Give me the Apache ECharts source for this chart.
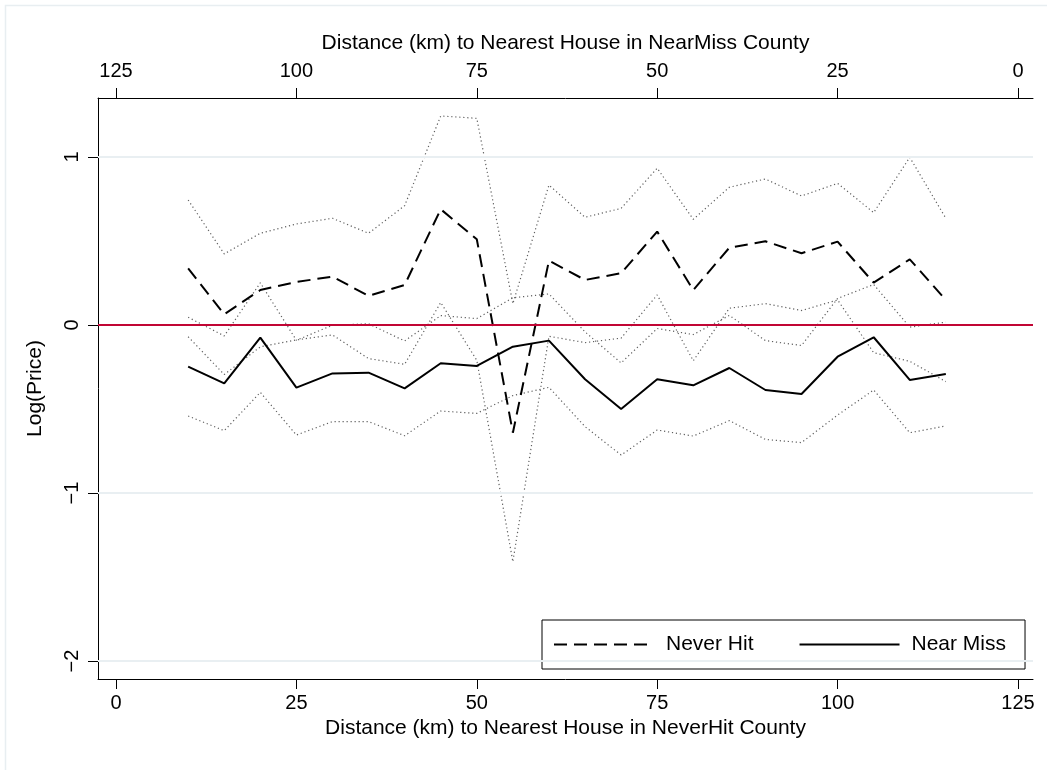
<!DOCTYPE html>
<html>
<head>
<meta charset="utf-8">
<script src="https://cdn.jsdelivr.net/npm/echarts@6/dist/echarts.min.js"></script>
<style>
html,body{margin:0;padding:0;background:#fff;}
#chart{width:1047px;height:770px;}
</style>
</head>
<body>
<div id="chart"></div>
<script>
// ---- data ----
const distances = [10,15,20,25,30,35,40,45,50,55,60,65,70,75,80,85,90,95,100,105,110,115];
const neverHit = [0.337,0.064,0.208,0.256,0.288,0.173,0.238,0.689,0.51,-0.641,0.383,0.268,0.308,0.556,0.208,0.460,0.498,0.427,0.496,0.252,0.391,0.149];
const neverHitUpper = [0.744,0.423,0.546,0.601,0.635,0.546,0.71,1.244,1.23,0.127,0.833,0.641,0.694,0.933,0.629,0.82,0.869,0.768,0.843,0.669,0.998,0.635];
const neverHitLower = [-0.07,-0.295,-0.13,-0.089,-0.059,-0.2,-0.234,0.134,-0.21,-1.409,-0.067,-0.105,-0.078,0.179,-0.213,0.1,0.127,0.086,0.149,-0.165,-0.216,-0.337];
const nearMiss = [-0.248,-0.347,-0.075,-0.373,-0.288,-0.284,-0.377,-0.228,-0.244,-0.129,-0.093,-0.323,-0.5,-0.323,-0.359,-0.256,-0.387,-0.411,-0.189,-0.073,-0.327,-0.292];
const nearMissUpper = [0.046,-0.065,0.251,-0.091,-0.001,0.007,-0.095,0.056,0.038,0.162,0.185,-0.041,-0.226,-0.021,-0.057,0.057,-0.093,-0.122,0.158,0.241,-0.013,0.017];
const nearMissLower = [-0.542,-0.629,-0.401,-0.655,-0.575,-0.575,-0.659,-0.512,-0.526,-0.42,-0.371,-0.605,-0.774,-0.625,-0.661,-0.569,-0.681,-0.700,-0.536,-0.387,-0.641,-0.601];
const xTicks = [0,25,50,75,100,125];
const yTicks = [-2,-1,0,1];
const gridValues = [1,-1,-2];
const refValue = 0;
const topTitle = 'Distance (km) to Nearest House in NearMiss County';
const bottomTitle = 'Distance (km) to Nearest House in NeverHit County';
const yTitle = 'Log(Price)';

const FONT = '"Liberation Sans", Arial, Helvetica, sans-serif';
const pairs = arr => distances.map((d, i) => [d, arr[i]]);
const minus = v => String(v).replace('-', '\u2212');

const dotted = { color: '#5f5f5f', width: 1.2, type: [1.2, 2.8] };

const chart = echarts.init(document.getElementById('chart'), null, { renderer: 'canvas' });
chart.setOption({
  backgroundColor: '#ffffff',
  animation: false,
  textStyle: { fontFamily: FONT },
  graphic: [{
    type: 'rect', z: -10, silent: true,
    shape: { x: 5.5, y: 5.5, width: 1060, height: 780 },
    style: { fill: 'none', stroke: '#e8eef1', lineWidth: 1.5 }
  }],
  grid: { left: 98, top: 98, right: 14, bottom: 91, containLabel: false },
  legend: {
    data: ['Never Hit', 'Near Miss'],
    left: 542, top: 620,
    orient: 'horizontal',
    padding: [14, 19, 14, 11],
    itemWidth: 100, itemHeight: 14, itemGap: 45,
    itemStyle: { opacity: 0 },
    borderColor: '#000', borderWidth: 1, borderRadius: 0,
    backgroundColor: '#fff',
    textStyle: { fontSize: 21, color: '#000', fontFamily: FONT, padding: [0, 0, 0, 7] },
    selectedMode: false
  },
  xAxis: [{
    type: 'value', position: 'bottom',
    min: -2.494, max: 127.08,
    name: bottomTitle, nameLocation: 'middle', nameGap: 33,
    nameTextStyle: { fontSize: 21, color: '#000', fontFamily: FONT },
    axisLine: { show: true, onZero: false, lineStyle: { color: '#000', width: 1 } },
    axisTick: { show: true, length: 10, customValues: xTicks, lineStyle: { color: '#000' } },
    axisLabel: { customValues: xTicks, fontSize: 20, color: '#000', margin: 14, fontFamily: FONT },
    splitLine: { show: false }
  }, {
    type: 'value', position: 'top', inverse: true,
    min: -2.08, max: 127.494,
    name: topTitle, nameLocation: 'middle', nameGap: 44,
    nameTextStyle: { fontSize: 21, color: '#000', fontFamily: FONT },
    axisLine: { show: true, onZero: false, lineStyle: { color: '#000', width: 1 } },
    axisTick: { show: true, length: 10, customValues: xTicks, lineStyle: { color: '#000' } },
    axisLabel: { customValues: xTicks, fontSize: 20, color: '#000', margin: 17, fontFamily: FONT },
    splitLine: { show: false }
  }],
  yAxis: {
    type: 'value', min: -2.107, max: 1.351,
    name: yTitle, nameLocation: 'middle', nameGap: 52, nameRotate: 90,
    nameTextStyle: { fontSize: 21, color: '#000', fontFamily: FONT },
    axisLine: { show: true, onZero: false, lineStyle: { color: '#000', width: 1 } },
    axisTick: { show: true, length: 10, customValues: yTicks, lineStyle: { color: '#000' } },
    axisLabel: { customValues: yTicks, rotate: 90, fontSize: 20, color: '#000', margin: 16,
      fontFamily: FONT, formatter: v => minus(v) },
    splitLine: { show: false }
  },
  series: [
    {
      name: 'grid', type: 'line', data: [], silent: true, z: 1,
      markLine: {
        silent: true, symbol: 'none', label: { show: false },
        lineStyle: { color: '#e9eff2', width: 2, type: 'solid' },
        data: gridValues.map(v => ({ yAxis: v }))
      }
    },
    { name: 'Never Hit CI upper', type: 'line', data: pairs(neverHitUpper), showSymbol: false, symbol: 'none', lineStyle: dotted, z: 2 },
    { name: 'Never Hit CI lower', type: 'line', data: pairs(neverHitLower), showSymbol: false, symbol: 'none', lineStyle: dotted, z: 2 },
    { name: 'Near Miss CI upper', type: 'line', data: pairs(nearMissUpper), showSymbol: false, symbol: 'none', lineStyle: dotted, z: 2 },
    { name: 'Near Miss CI lower', type: 'line', data: pairs(nearMissLower), showSymbol: false, symbol: 'none', lineStyle: dotted, z: 2 },
    {
      name: 'ref', type: 'line', data: [], silent: true, z: 3,
      markLine: {
        silent: true, symbol: 'none', label: { show: false },
        lineStyle: { color: '#c10534', width: 2, type: 'solid' },
        data: [{ yAxis: refValue }]
      }
    },
    { name: 'Never Hit', type: 'line', data: pairs(neverHit), showSymbol: false, symbol: 'none',
      itemStyle: { color: '#000' },
      lineStyle: { color: '#000', width: 2, type: [13, 7] }, z: 4 },
    { name: 'Near Miss', type: 'line', data: pairs(nearMiss), showSymbol: false, symbol: 'none',
      itemStyle: { color: '#000' },
      lineStyle: { color: '#000', width: 2, type: 'solid' }, z: 4 }
  ]
});
</script>
</body>
</html>
